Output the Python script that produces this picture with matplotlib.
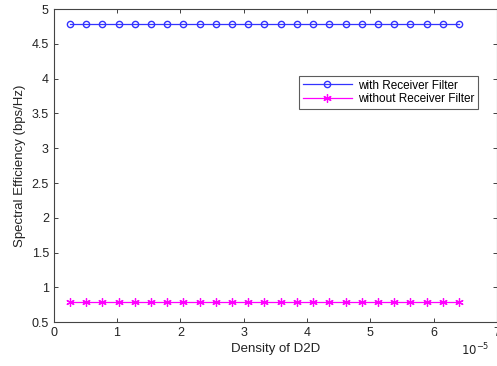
import matplotlib.pyplot as plt
from matplotlib.ticker import FuncFormatter, MultipleLocator

plt.rcParams['font.family'] = ['Liberation Sans', 'DejaVu Sans']

density = [0.256e-5, 0.512e-5, 0.768e-5, 1.024e-5, 1.280e-5, 1.536e-5, 1.792e-5,
           2.048e-5, 2.304e-5, 2.560e-5, 2.816e-5, 3.072e-5, 3.328e-5, 3.584e-5,
           3.840e-5, 4.096e-5, 4.352e-5, 4.608e-5, 4.864e-5, 5.120e-5, 5.376e-5,
           5.632e-5, 5.888e-5, 6.144e-5, 6.400e-5]
with_filter = [4.78] * 25
without_filter = [0.79] * 25

fig = plt.figure(figsize=(4.97, 3.66), dpi=100)
ax = fig.add_axes([0.108, 0.12, 0.892, 0.855])

ax.plot(density, with_filter, color='#3333ff', marker='o', markersize=4.5,
        markerfacecolor='none', linewidth=0.9, label='with Receiver Filter')
ax.plot(density, without_filter, color='#ff00ff', marker=(6, 2, 0), markersize=6,
        markeredgewidth=0.9, linewidth=0.9, label='without Receiver Filter')

ax.set_xlim(0, 7e-5)
ax.set_ylim(0.5, 5)
ax.xaxis.set_major_locator(MultipleLocator(1e-5))
ax.yaxis.set_major_locator(MultipleLocator(0.5))
ax.xaxis.set_major_formatter(FuncFormatter(lambda v, _: f"{v / 1e-5:g}"))
ax.yaxis.set_major_formatter(FuncFormatter(lambda v, _: f"{v:g}"))
ax.tick_params(direction='in', top=True, right=True, length=3, labelsize=9,
               colors='#222222', width=0.6)
for s in ax.spines.values():
    s.set_color('#444444')
    s.set_linewidth(0.8)

ax.set_xlabel('Density of D2D', fontsize=9.5, color='#222222', labelpad=3)
ax.set_ylabel('Spectral Efficiency (bps/Hz)', fontsize=9.5, color='#222222', labelpad=4)
fig.text(0.985, 0.03, r'$10^{-5}$', fontsize=8.5, color='#222222', ha='right')

leg = ax.legend(loc='upper left', bbox_to_anchor=(0.54, 0.805), fontsize=8.5,
                frameon=True, fancybox=False, borderpad=0.3, handlelength=4.2,
                labelspacing=0.15, handletextpad=0.5)
leg.get_frame().set_edgecolor('#333333')
leg.get_frame().set_linewidth(0.8)

fig.savefig('out.png', dpi=100)
